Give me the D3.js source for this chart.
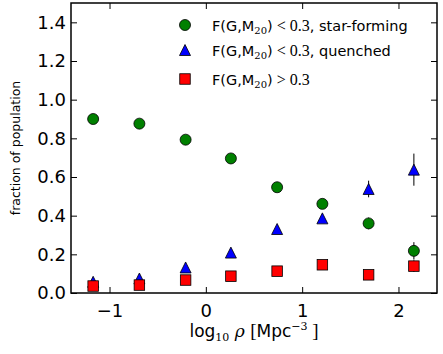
<!DOCTYPE html>
<html>
<head>
<meta charset="utf-8">
<script src="https://cdn.jsdelivr.net/npm/d3@7"></script>
<style>
  body { margin: 0; background: #fff; }
  svg { display: block; }
  text { font-family: "DejaVu Sans", sans-serif; }
</style>
</head>
<body>
<svg></svg>
<script>
// density bins (log10 rho)
const logRho = [-1.17, -0.69, -0.21, 0.26, 0.74, 1.21, 1.69, 2.16];

const starForming = [0.900, 0.876, 0.793, 0.696, 0.547, 0.461, 0.360, 0.218];
const starFormingErr = [0.01, 0.01, 0.01, 0.012, 0.015, 0.02, 0.03, 0.045];

const quenched = [0.058, 0.075, 0.132, 0.209, 0.331, 0.386, 0.538, 0.638];
const quenchedErr = [0.01, 0.01, 0.01, 0.012, 0.015, 0.02, 0.043, 0.083];

const disturbed = [0.036, 0.041, 0.067, 0.087, 0.113, 0.146, 0.094, 0.139];
const disturbedErr = [0.005, 0.005, 0.006, 0.008, 0.01, 0.015, 0.02, 0.03];

const xTicks = [-1, 0, 1, 2];
const yTicks = [0, 0.2, 0.4, 0.6, 0.8, 1.0, 1.2, 1.4];

const width = 443, height = 354;
const margin = {left: 71, right: 6, top: 3, bottom: 61};

const svg = d3.select("svg").attr("width", width).attr("height", height);

const x = d3.scaleLinear().domain([-1.4, 2.4]).range([margin.left, width - margin.right]);
const y = d3.scaleLinear().domain([0, 1.5]).range([height - margin.bottom, margin.top]);

const tickLen = 6;

// axes (ticks pointing inward, matplotlib classic)
const fmtY = d => d.toFixed(1);
const fmtX = d => d < 0 ? "\u2212" + Math.abs(d) : String(d);

svg.append("g")
    .attr("transform", `translate(0,${y(0)})`)
    .call(d3.axisBottom(x).tickValues(xTicks).tickFormat(fmtX).tickSize(-tickLen).tickPadding(12))
    .call(g => g.select(".domain").remove())
    .call(g => g.selectAll("text").attr("font-size", 18).attr("dy", "0.71em").attr("y", 11).attr("fill", "#000"));

svg.append("g")
    .attr("transform", `translate(0,${y(1.5)})`)
    .call(d3.axisTop(x).tickValues(xTicks).tickFormat("").tickSize(-tickLen))
    .call(g => g.select(".domain").remove());

svg.append("g")
    .attr("transform", `translate(${x(-1.4)},0)`)
    .call(d3.axisLeft(y).tickValues(yTicks).tickFormat(fmtY).tickSize(-tickLen).tickPadding(5))
    .call(g => g.select(".domain").remove())
    .call(g => g.selectAll("text").attr("font-size", 18).attr("fill", "#000"));

svg.append("g")
    .attr("transform", `translate(${x(2.4)},0)`)
    .call(d3.axisRight(y).tickValues(yTicks).tickFormat("").tickSize(-tickLen))
    .call(g => g.select(".domain").remove());

svg.selectAll(".tick line").attr("stroke", "#000").attr("stroke-width", 1);

// frame
svg.append("rect")
    .attr("x", x(-1.4)).attr("y", y(1.5))
    .attr("width", x(2.4) - x(-1.4)).attr("height", y(0) - y(1.5))
    .attr("fill", "none").attr("stroke", "#000").attr("stroke-width", 1.5);

// marker shapes
const triPath = s => `M0,${-s}L${s},${s}L${-s},${s}Z`;

function errorBars(vals, errs) {
    svg.append("g").selectAll("line")
        .data(vals)
        .join("line")
        .attr("x1", (d, i) => x(logRho[i]))
        .attr("x2", (d, i) => x(logRho[i]))
        .attr("y1", (d, i) => y(d - errs[i]))
        .attr("y2", (d, i) => y(d + errs[i]))
        .attr("stroke", "#000")
        .attr("stroke-width", 1);
}

// star-forming
errorBars(starForming, starFormingErr);
svg.append("g").selectAll("circle")
    .data(starForming)
    .join("circle")
    .attr("cx", (d, i) => x(logRho[i]))
    .attr("cy", d => y(d))
    .attr("r", 5.5)
    .attr("fill", "#008000")
    .attr("stroke", "#000")
    .attr("stroke-width", 0.8);

// quenched
errorBars(quenched, quenchedErr);
svg.append("g").selectAll("path")
    .data(quenched)
    .join("path")
    .attr("d", triPath(5.5))
    .attr("transform", (d, i) => `translate(${x(logRho[i])},${y(d)})`)
    .attr("fill", "#0000ff")
    .attr("stroke", "#000")
    .attr("stroke-width", 0.8);

// disturbed
errorBars(disturbed, disturbedErr);
svg.append("g").selectAll("rect")
    .data(disturbed)
    .join("rect")
    .attr("x", (d, i) => x(logRho[i]) - 5.25)
    .attr("y", d => y(d) - 5.25)
    .attr("width", 10.5)
    .attr("height", 10.5)
    .attr("fill", "#ff0000")
    .attr("stroke", "#000")
    .attr("stroke-width", 0.8);

// legend
const legend = svg.append("g");
const legX = 185, legTextX = 212;
const legY = [25, 50, 79];

legend.append("circle").attr("cx", legX).attr("cy", legY[0]).attr("r", 5.5)
    .attr("fill", "#008000").attr("stroke", "#000").attr("stroke-width", 0.8);
legend.append("path").attr("d", triPath(5.5)).attr("transform", `translate(${legX},${legY[1]})`)
    .attr("fill", "#0000ff").attr("stroke", "#000").attr("stroke-width", 0.8);
legend.append("rect").attr("x", legX - 5.25).attr("y", legY[2] - 5.25).attr("width", 10.5).attr("height", 10.5)
    .attr("fill", "#ff0000").attr("stroke", "#000").attr("stroke-width", 0.8);

const legendLabels = [
    ["<", ", star-forming"],
    ["<", ", quenched"],
    [">", ""]
];

legendLabels.forEach((lab, i) => {
    const t = legend.append("text")
        .attr("x", legTextX).attr("y", legY[i] + 5.5)
        .attr("font-size", 14.5).attr("fill", "#000");
    t.append("tspan").text("F(G,M");
    t.append("tspan").attr("font-family", "DejaVu Serif").attr("font-size", 10).attr("dy", 3).text("20");
    t.append("tspan").attr("dy", -3).text(")");
    t.append("tspan").attr("font-family", "Liberation Serif").attr("font-size", 16).text(" " + lab[0] + " 0.3");
    if (lab[1]) t.append("tspan").text(lab[1]);
});

// axis labels
const xl = svg.append("text")
    .attr("x", (x(-1.4) + x(2.4)) / 2).attr("y", 337)
    .attr("text-anchor", "middle").attr("font-size", 17).attr("fill", "#000");
xl.append("tspan").text("log");
xl.append("tspan").attr("font-family", "DejaVu Serif").attr("font-size", 11).attr("dy", 4).text("10");
xl.append("tspan").attr("font-family", "DejaVu Serif").attr("font-style", "italic").attr("dy", -4).text(" \u03c1 ");
xl.append("tspan").attr("font-family", "Liberation Serif").attr("font-size", 19).text("[");
xl.append("tspan").text("Mpc");
xl.append("tspan").attr("font-family", "DejaVu Serif").attr("font-size", 11).attr("dy", -7).text("\u22123");
xl.append("tspan").attr("font-family", "Liberation Serif").attr("font-size", 19).attr("dy", 7).text(" ]");

svg.append("text")
    .attr("transform", `translate(20,${(y(0) + y(1.5)) / 2}) rotate(-90)`)
    .attr("text-anchor", "middle").attr("font-size", 12.5).attr("fill", "#000")
    .text("fraction of population");
</script>
</body>
</html>
